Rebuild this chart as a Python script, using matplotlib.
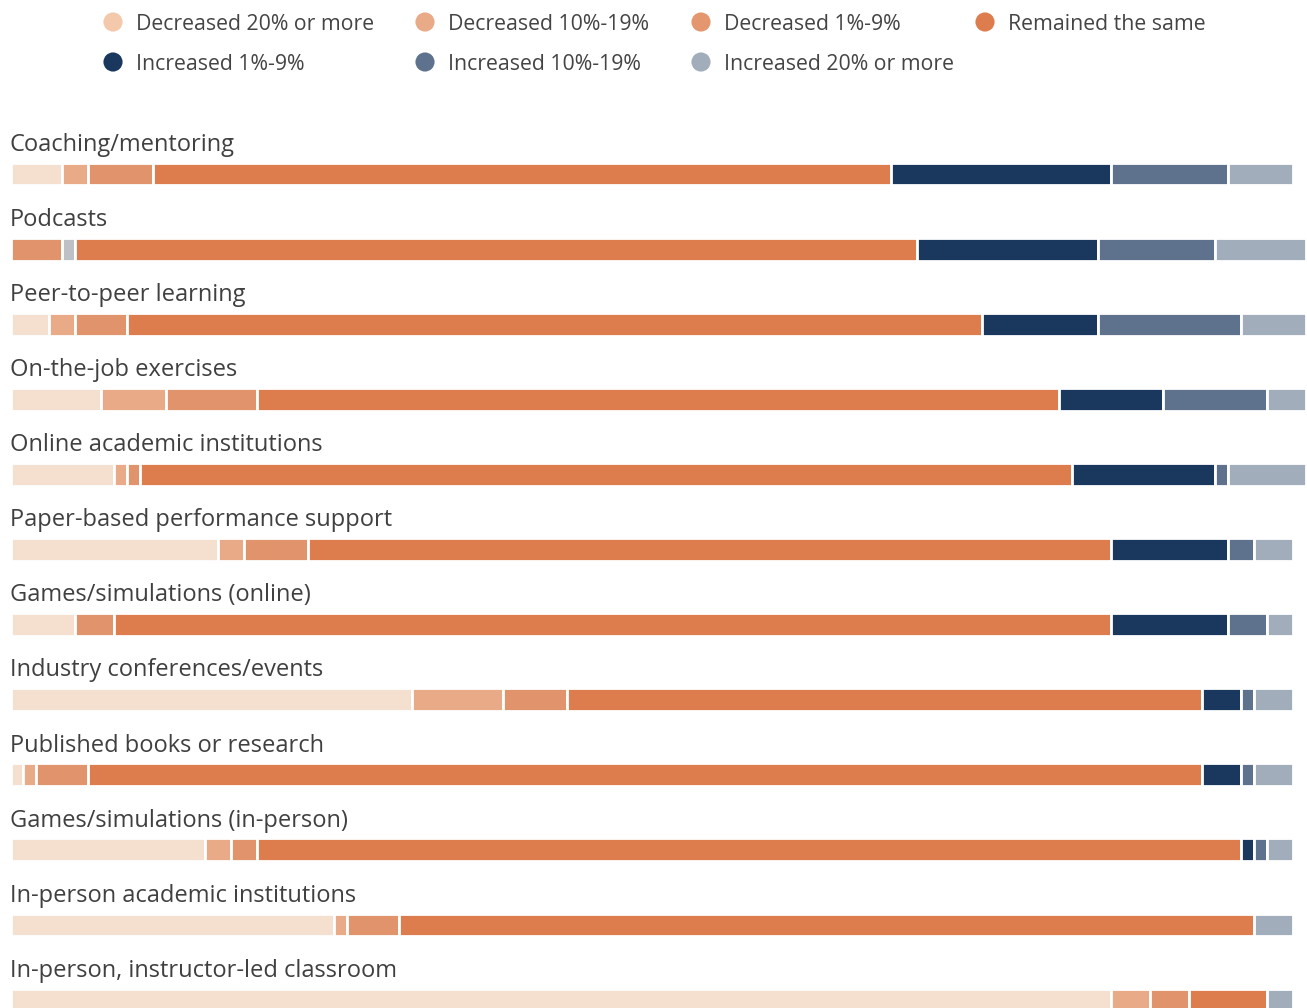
import matplotlib
matplotlib.use("Agg")
import matplotlib.pyplot as plt
import numpy as np

# share of respondents (%) per change bucket, one entry per delivery method
categories = [
    "Coaching/mentoring",
    "Podcasts",
    "Peer-to-peer learning",
    "On-the-job exercises",
    "Online academic institutions",
    "Paper-based performance support",
    "Games/simulations (online)",
    "Industry conferences/events",
    "Published books or research",
    "Games/simulations (in-person)",
    "In-person academic institutions",
    "In-person, instructor-led classroom",
]
dec_20 = [4, 0, 3, 7, 8, 16, 5, 31, 1, 15, 25, 85]
dec_10 = [2, 0, 2, 5, 1, 2, 0, 7, 1, 2, 1, 3]
dec_1 = [5, 4, 4, 7, 1, 5, 3, 5, 4, 2, 4, 3]
unlabelled = [0, 1, 0, 0, 0, 0, 0, 0, 0, 0, 0, 0]
same = [57, 65, 66, 62, 72, 62, 77, 49, 86, 76, 66, 6]
inc_1 = [17, 14, 9, 8, 11, 9, 9, 3, 3, 1, 0, 0]
inc_10 = [9, 9, 11, 8, 1, 2, 3, 1, 1, 1, 0, 0]
inc_20 = [5, 7, 5, 3, 6, 3, 2, 3, 3, 2, 3, 2]

legend_labels = [
    "Decreased 20% or more", "Decreased 10%-19%", "Decreased 1%-9%", "Remained the same",
    "Increased 1%-9%", "Increased 10%-19%", "Increased 20% or more",
]

series = [dec_20, dec_10, dec_1, unlabelled, same, inc_1, inc_10, inc_20]
colors = ["#f5dfcf", "#e9aa87", "#e1936c", "#bdc0c5", "#dd7d4e", "#1a375e", "#5e728d", "#a2adbc"]
legend_colors = ["#f4c8ab", "#e9aa87", "#e4966e", "#dd7d4e", "#1a375e", "#5e728d", "#a2adbc"]

W, H = 1307, 1008
fig = plt.figure(figsize=(W / 100, H / 100), dpi=100)

# bar area: x in percent, y in row index
row_px = 75.1
first_px = 174
ax = fig.add_axes([10.5 / W, 0, 1295 / W, 1])
ymin = -first_px / row_px
ymax = ymin + H / row_px
ax.set_xlim(0, 100)
ax.set_ylim(ymax, ymin)
ax.axis("off")

y = np.arange(len(categories))
left = np.zeros(len(categories))
for vals, col in zip(series, colors):
    vals = np.array(vals, dtype=float)
    mask = vals > 0
    ax.barh(y[mask], vals[mask], left=left[mask], height=0.305, color=col,
            edgecolor="white", linewidth=2)
    left += vals

for i, cat in enumerate(categories):
    ax.text(-0.05, i - 0.31, cat, ha="left", va="baseline", fontsize=17,
            color="#404040", family="Open Sans")

# legend drawn by hand in pixel coords
lax = fig.add_axes([0, 0, 1, 1])
lax.set_xlim(0, W)
lax.set_ylim(H, 0)
lax.axis("off")
col_x = [113, 425, 701, 985]
row_y = [22, 62]
for k, (lab, col) in enumerate(zip(legend_labels, legend_colors)):
    cx = col_x[k % 4]
    cy = row_y[k // 4]
    lax.scatter([cx], [cy], s=190, color=col, edgecolor="none")
    lax.text(cx + 23, cy + 2, lab, ha="left", va="center", fontsize=15.3,
             color="#444444", family="Open Sans")

fig.savefig("out.png", dpi=100)
